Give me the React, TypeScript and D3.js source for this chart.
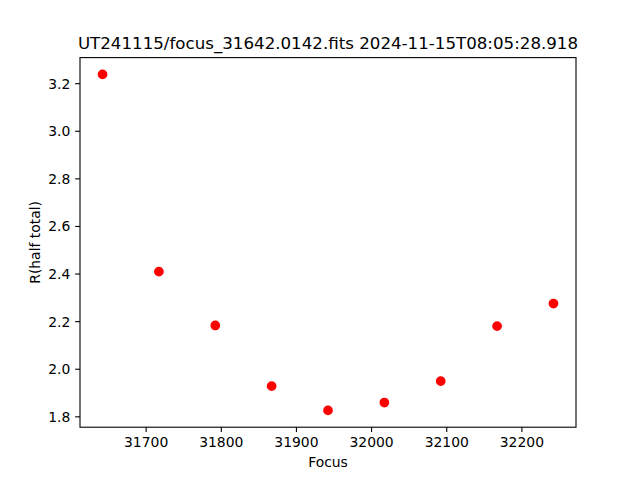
import React from "react";
import * as d3 from "d3";

const focusValues = [31642, 31717, 31792, 31867, 31942, 32017, 32092, 32167, 32242];
const rValues = [3.239, 2.41, 2.184, 1.929, 1.827, 1.86, 1.95, 2.181, 2.276];
const xTicks = [31700, 31800, 31900, 32000, 32100, 32200];
const yTicks = [1.8, 2.0, 2.2, 2.4, 2.6, 2.8, 3.0, 3.2];
const titleText = "UT241115/focus_31642.0142.fits 2024-11-15T08:05:28.918";
const xLabel = "Focus";
const yLabel = "R(half total)";

const W = 640, H = 480;
const L = 80, R = 576, T = 57.6, B = 427.2;
const font = "DejaVu Sans, sans-serif";

export default function App() {
  const [xmin, xmax] = d3.extent(focusValues) as [number, number];
  const [ymin, ymax] = d3.extent(rValues) as [number, number];
  const xm = (xmax - xmin) * 0.05, ym = (ymax - ymin) * 0.05;
  const x = d3.scaleLinear().domain([xmin - xm, xmax + xm]).range([L, R]);
  const y = d3.scaleLinear().domain([ymin - ym, ymax + ym]).range([B, T]);
  const tl = 4.86;
  return (
    <svg width={W} height={H} style={{ position: "absolute", left: 0, top: 0, background: "#fff" }} fontFamily={font}>
      <rect x={0} y={0} width={W} height={H} fill="#fff" />
      {focusValues.map((f, i) => (
        <circle key={i} cx={x(f)} cy={y(rValues[i])} r={4.17} fill="#ff0000" stroke="#ff0000" strokeWidth={1.39} />
      ))}
      <rect x={L} y={T} width={R - L} height={B - T} fill="none" stroke="#000" strokeWidth={1.1} />
      {xTicks.map((t) => (
        <g key={t}>
          <line x1={x(t)} x2={x(t)} y1={B} y2={B + tl} stroke="#000" strokeWidth={1.1} />
          <text x={x(t)} y={B + tl + 4.86 + 10.5} fontSize={13.9} textAnchor="middle" fill="#000">{t}</text>
        </g>
      ))}
      {yTicks.map((t) => (
        <g key={t}>
          <line x1={L - tl} x2={L} y1={y(t)} y2={y(t)} stroke="#000" strokeWidth={1.1} />
          <text x={L - tl - 4.86} y={y(t)} dy="0.36em" fontSize={13.9} textAnchor="end" fill="#000">{t.toFixed(1)}</text>
        </g>
      ))}
      <text x={(L + R) / 2} y={467} fontSize={13.9} textAnchor="middle" fill="#000">{xLabel}</text>
      <text transform={`translate(39.5, ${(T + B) / 2}) rotate(-90)`} fontSize={13.9} textAnchor="middle" fill="#000">{yLabel}</text>
      <text x={(L + R) / 2} y={49.3} fontSize={16.67} textAnchor="middle" fill="#000">{titleText}</text>
    </svg>
  );
}
